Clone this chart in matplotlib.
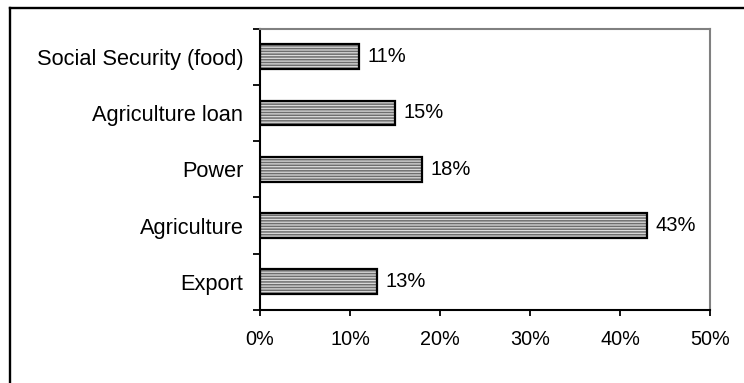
import numpy as np
import matplotlib
matplotlib.use('Agg')
import matplotlib.pyplot as plt
from matplotlib.lines import Line2D
from matplotlib.ticker import FuncFormatter

plt.rcParams.update({
    'font.family': ['Liberation Sans', 'DejaVu Sans'],
    'hatch.linewidth': 1.1,
})

# --- Data ---
categories = ['Export', 'Agriculture', 'Power', 'Agriculture loan', 'Social Security (food)']
shares = [13, 43, 18, 15, 11]
xticks = [0, 10, 20, 30, 40, 50]

# --- Plot ---
fig = plt.figure(figsize=(7.44, 3.83), dpi=100)
ax = fig.add_axes([260 / 744, (383 - 310) / 383, 450 / 744, 281.5 / 383])

y = np.arange(len(categories))
h = 0.44

# striped fill, then a plain black outline on top
ax.barh(y, shares, height=h, color='#dcdcdc', edgecolor='#6e6e6e',
        hatch='------', linewidth=0, zorder=2)
bars = ax.barh(y, shares, height=h, fill=False, edgecolor='black',
               linewidth=1.6, zorder=3)
ax.bar_label(bars, labels=[f'{v}%' for v in shares], padding=6, fontsize=14.5)

ax.set_xlim(0, 50)
ax.set_ylim(-0.5, len(categories) - 0.5)
ax.set_xticks(xticks)
ax.xaxis.set_major_formatter(FuncFormatter(lambda v, _: f'{v:.0f}%'))

# category names centred on bars, tick marks between them
ax.set_yticks(y)
ax.set_yticklabels(categories, fontsize=15.7)
ax.set_yticks(np.arange(-0.5, len(categories)), minor=True)
ax.tick_params(axis='y', which='major', length=0, pad=12)
ax.tick_params(axis='y', which='minor', length=4.8, width=1.3, direction='out')
ax.tick_params(axis='x', length=4.2, width=1.3, direction='out', pad=10, labelsize=14.3)

for side in ['left', 'bottom']:
    ax.spines[side].set_linewidth(1.5)
    ax.spines[side].set_color('black')
for side in ['top', 'right']:
    ax.spines[side].set_linewidth(1.5)
    ax.spines[side].set_color('#808080')

# outer frame (top and left edges only)
fig.add_artist(Line2D([10 / 744, 1.0], [1 - 8 / 383, 1 - 8 / 383],
                      transform=fig.transFigure, color='black', linewidth=1.7))
fig.add_artist(Line2D([10 / 744, 10 / 744], [0.0, 1 - 8 / 383],
                      transform=fig.transFigure, color='black', linewidth=1.7))

fig.savefig('out.png', dpi=100)
plt.close(fig)
